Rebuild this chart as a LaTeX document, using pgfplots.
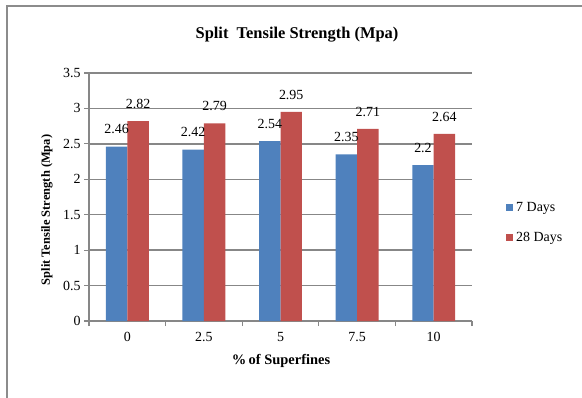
\documentclass[border=0pt]{standalone}
\usepackage{fontspec}
\setmainfont{Liberation Serif}
\usepackage{pgfplots}
\pgfplotsset{compat=1.18}

\definecolor{sevenblue}{HTML}{4F81BD}
\definecolor{twentyeightred}{HTML}{C0504D}
\definecolor{gridgray}{HTML}{878787}
\definecolor{framegray}{HTML}{8C8C8C}

\begin{document}
\begin{tikzpicture}[x=1bp,y=1bp]
  \useasboundingbox (0,0) rectangle (582,397);
  % chart frame (left and top edges)
  \draw[framegray, line width=2bp] (7,-10) -- (7,391) -- (600,391);

  \begin{axis}[
    at={(89bp,76bp)}, anchor=south west,
    scale only axis,
    width=383bp, height=248bp,
    /pgf/number format/assume math mode=true,
    xmin=-0.5, xmax=4.5,
    ymin=0, ymax=3.5,
    ytick={0,0.5,...,3.5},
    xtick={0,1,2,3,4},
    xticklabels={0,2.5,5,7.5,10},
    minor xtick={-0.5,0.5,1.5,2.5,3.5,4.5},
    major x tick style={draw=none},
    minor x tick style={gridgray, line width=1.2bp},
    y tick style={gridgray, line width=1.2bp},
    tick align=outside,
    major tick length=5bp,
    minor tick length=5bp,
    axis x line*=bottom,
    axis y line*=left,
    axis line style={gridgray, line width=1.5bp, -},
    ymajorgrids,
    major grid style={gridgray, line width=1.5bp},
    tick label style={font=\fontsize{14}{16}\selectfont, black},
    xticklabel style={yshift=-3bp},
    ybar=0pt,
    bar width=0.28,
    nodes near coords,
    every node near coord/.append style={font=\fontsize{14}{16}\selectfont, black, yshift=9bp},
    legend style={at={(rel axis cs:1.088,0.398)}, anchor=west, draw=none,
      font=\fontsize{14}{16}\selectfont, row sep=17bp,
      inner sep=0pt, nodes={inner sep=1bp}},
    legend cell align=left,
  ]
    % 7 days
    \addplot[fill=sevenblue, draw=none,
      legend image code/.code={\fill[sevenblue] (0bp,-3.5bp) rectangle (7bp,3.5bp);}]
      coordinates {(0,2.46) (1,2.42) (2,2.54) (3,2.35) (4,2.2)};
    % 28 days
    \addplot[fill=twentyeightred, draw=none,
      legend image code/.code={\fill[twentyeightred] (0bp,-3.5bp) rectangle (7bp,3.5bp);}]
      coordinates {(0,2.82) (1,2.79) (2,2.95) (3,2.71) (4,2.64)};
    \legend{\,7 Days, \,28 Days}
  \end{axis}

  % title and axis labels
  \node[font=\bfseries\fontsize{16.5}{18}\selectfont] at (297,362) {Split\ \ Tensile Strength (Mpa)};
  \node[font=\bfseries\fontsize{12.5}{14}\selectfont, rotate=90] at (47,187) {Split Tensile Strength (Mpa)};
  \node[font=\bfseries\fontsize{14.5}{16}\selectfont] at (281,36) {\%\,of Superfines};
\end{tikzpicture}
\end{document}
